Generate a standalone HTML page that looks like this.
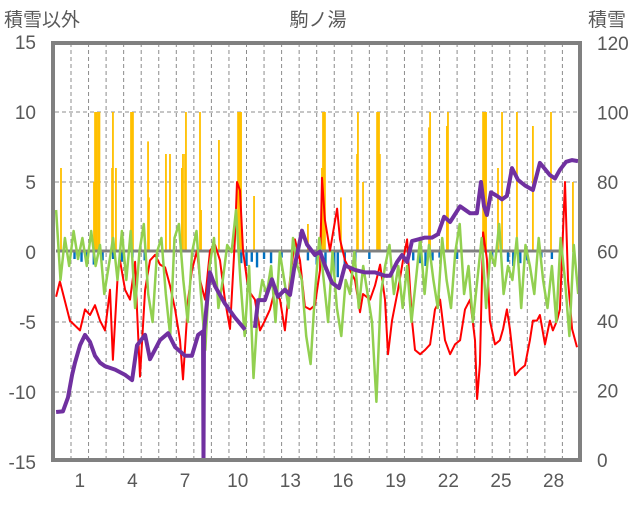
<!DOCTYPE html>
<html><head><meta charset="utf-8"><style>
body{margin:0;background:#fff;}
svg text{font-family:"Liberation Sans","Noto Sans CJK JP",sans-serif;fill:#595959;}
</style></head><body>
<svg id="chart" width="636" height="501" viewBox="0 0 636 501" xmlns="http://www.w3.org/2000/svg">
<text x="318" y="26" font-size="19" text-anchor="middle">駒ノ湯</text>
<text x="4" y="26" font-size="19">積雪以外</text>
<text x="588" y="26" font-size="19">積雪</text>
<g id="grid"></g>
<g id="bars"></g>
<g id="lines"></g>
<g id="axes"></g>
</svg>
<script>
const leftTicks=[15,10,5,0,-5,-10,-15];
const rightTicks=[120,100,80,60,40,20,0];
const dayLabels=[1,4,7,10,13,16,19,22,25,28];
const orangeT=[-0.57,1.31,1.37,1.45,1.54,1.62,2.34,2.39,2.56,3.42,3.48,3.53,4.39,4.44,5.41,5.64,6.32,6.38,6.5,6.55,7.35,7.41,8.43,9.52,9.58,9.63,9.69,10.43,13.5,14.3,14.36,14.42,14.47,15.38,16.3,16.35,16.64,17.44,17.5,17.55,17.6,20.4,20.46,21.42,21.48,23.48,23.53,23.59,23.65,24.33,24.56,25.41,26.32,27.35,28.6];
const orangeV=[6,5,10,10,10,10,6,10,6,10,10,10,7.9,3.9,7,7,6,7,7,10,10,3,8,10,10,10,10,4,2,6,10,10,10,3.9,7,10,5,10,10,10,7,8.9,10,9,10,10,10,10,10,6,10,10,9,10,5];
const blueT=[0.2,0.6,0.9,1.3,1.8,2.4,2.9,3.5,4.2,9.7,10.0,10.3,10.6,11.0,11.4,12.0,12.6,13.5,14.0,14.5,15.0,15.2,15.6,16.2,17.0,19.5,19.9,20.2,20.6,21.0,22.0,24.0,24.9,25.2,25.6,26.0,26.8,27.4];
const blueV=[-0.5,-0.7,-0.4,-0.9,-0.6,-0.5,-0.7,-0.4,-0.6,-0.8,-1.0,-0.7,-1.1,-0.5,-0.8,-0.4,-0.5,-0.6,-0.9,-1.3,-1.6,-1.8,-1.2,-0.8,-0.5,-0.6,-0.8,-1.0,-0.6,-0.4,-0.5,-0.4,-0.7,-1.0,-0.8,-0.6,-0.4,-0.5];
const redT=[-0.85,-0.63,-0.06,0.51,0.8,1.08,1.37,1.65,1.94,2.22,2.39,2.68,2.79,3.08,3.36,3.65,3.76,3.93,4.22,4.5,4.79,5.07,5.36,5.64,5.93,6.21,6.38,6.67,6.89,7.18,7.35,7.64,7.92,8.21,8.49,8.77,9.06,9.34,9.46,9.63,9.8,10.03,10.2,10.48,10.77,11.05,11.34,11.62,11.91,12.19,12.48,12.76,13.05,13.33,13.62,13.9,14.19,14.3,14.47,14.76,15.16,15.33,15.61,15.9,16.18,16.47,16.64,17.04,17.32,17.61,17.89,18.06,18.29,18.63,18.92,19.15,19.32,19.43,19.6,19.89,20.17,20.46,20.74,21.03,21.31,21.6,21.88,22.17,22.45,22.74,23.02,23.14,23.3,23.48,23.7,23.87,24.16,24.44,24.62,24.84,25.01,25.3,25.58,25.87,26.15,26.32,26.55,26.72,27.01,27.29,27.46,27.69,27.86,28.15,28.32,28.55,28.83];
const redV=[-3.2,-2.1,-4.9,-5.6,-4.1,-4.5,-3.8,-4.9,-5.6,-2.7,-7.7,-1.3,-0.6,-2.7,-3.4,-0.7,-4.1,-8.9,-2.7,-0.6,-0.2,-0.9,-1.1,-2.4,-4.1,-6.3,-9.1,-3.4,-1.3,0.1,-2.0,-3.4,0.1,0.5,-0.6,-3.4,-5.5,0.9,5.0,4.4,0.1,-2.0,-2.9,-3.4,-5.6,-4.9,-4.1,-2.7,-3.4,-5.6,-2.0,0.9,-0.6,-3.9,-4.1,-3.8,-1.3,5.3,2.3,0.1,3.1,0.9,-0.6,-1.3,-2.0,-4.3,-3.0,-3.4,-2.4,-0.9,-3.4,-7.3,-4.9,-2.7,-0.6,0.9,-2.7,-4.9,-7.0,-7.3,-7.0,-6.6,-4.1,-3.4,-6.3,-7.3,-6.6,-6.3,-4.1,-3.4,-6.3,-10.5,-8.0,1.4,-0.5,-4.9,-6.6,-6.3,-5.5,-4.1,-5.5,-8.8,-8.4,-8.1,-6.3,-4.9,-4.9,-4.5,-6.6,-4.9,-5.6,-4.9,-4.1,5.0,-2.0,-5.5,-6.8];
const greenV=[3,-2,1,-1,1.5,-0.5,1,-1,
1.5,-1,0.5,-3,-1,1,-2,1.5,
-2,1.5,-4,0,2,-3,-5,0,
1,-3,-6,1,2,-2,-5,0,
1.5,-3,-7,-1,1,-4,-2,0.5,
0,3,-2,-6,-1,-9,-4,-2,
-3,-1,-5,0,-2,-4,1,-1,
-2,-6,-8,-3,1,-2,-5,0,
-4,-6,-2,-3,0,-4,-1,-3,
-5,-10.7,-3,-1,0.5,-3,-1,-4,
-1,-5,-2,1,-3,0.5,-2,-4,
1,-2,-4,0,2,-3,-1,-5,
-2,1,-4,0,-1,2,-3,-1,
-2,1,-4,0.5,-1,-3,1,-2,
-4,-1,-5,1,-2,-6,0.5,-3];
const greenStartT=-0.85, greenStepT=0.25;
const snowT=[-0.85,-0.46,-0.17,0.06,0.23,0.51,0.8,1.08,1.37,1.65,1.94,2.51,3.08,3.48,3.76,4.22,4.5,5.07,5.53,5.93,6.5,6.89,7.24,7.52,7.55,7.58,7.92,8.21,8.77,9.34,9.92,null,10.48,10.66,11.05,11.45,11.79,12.19,12.48,12.71,13.16,13.45,13.9,14.19,14.47,14.87,15.27,15.61,16.18,16.75,17.32,17.89,18.18,18.58,18.86,19.15,19.43,20.17,20.57,20.91,21.26,21.6,22.17,22.74,23.13,23.36,23.53,23.7,23.93,24.27,24.56,24.84,25.13,25.47,25.87,26.32,26.72,27.29,27.58,27.86,28.21,28.55,28.89];
const snowV=[13.8,14,18,24.5,28,33,36,34,30,28,27,26,24.5,23,33,36,29,34.5,36.5,32.5,30,30,36,37,0,37,54,50,45,41,37.5,null,38,46,46,52,47,49,47.5,55,66,62,59,60,56,51,49.5,56,54.7,54,54,53,53,57,59,57,63,64,64,65,70,68.5,73,71,71,80,73,70.5,77,76,75,76,84,80.6,79,77.7,85.5,82,81,83.5,85.8,86.3,86];

const svg=document.getElementById('chart');
const NS='http://www.w3.org/2000/svg';
const L=55,R=579,T=43,B=460;
const x=t=>71+t*17.55;
const yl=v=>252-v*14;
const yr=v=>460-v*(417/120);
function mk(tag,attrs,parent){const e=document.createElementNS(NS,tag);for(const k in attrs)e.setAttribute(k,attrs[k]);parent.appendChild(e);return e;}
const grid=document.getElementById('grid'),bars=document.getElementById('bars'),lines=document.getElementById('lines'),axes=document.getElementById('axes');
leftTicks.forEach(v=>{if(v===15||v===-15||v===0)return;
 const g=mk('line',{x1:L,x2:R,y1:yl(v),y2:yl(v),stroke:'#8c8c8c','stroke-width':1,'stroke-dasharray':'4 3'},grid);
 
 });
for(let d=0;d<=28;d++){const g=mk('line',{x1:x(d),x2:x(d),y1:T,y2:B,stroke:'#8c8c8c','stroke-width':1,'stroke-dasharray':'4 3'},grid);
 
 }
orangeT.forEach((t,i)=>{const v=orangeV[i];const r=mk('rect',{x:x(t)-0.9,y:yl(v),width:1.8,height:yl(0)-yl(v),fill:'#ffc000'},bars);
 
 });
blueT.forEach((t,i)=>{const v=blueV[i];const r=mk('rect',{x:x(t)-1.2,y:yl(0),width:2.4,height:yl(v)-yl(0),fill:'#0070c0'},bars);
 
 });
const z=mk('line',{x1:L+1,x2:560,y1:yl(0)-1,y2:yl(0)-1,stroke:'#808080','stroke-width':3},lines);


function path(ts,vs,yf){let d='',pen=false;for(let i=0;i<ts.length;i++){if(ts[i]===null||vs[i]===null){pen=false;continue;}d+=(pen?'L':'M')+x(ts[i]).toFixed(1)+' '+yf(vs[i]).toFixed(1);pen=true;}return d;}
const rp=mk('path',{d:path(redT,redV,yl),fill:'none',stroke:'#ff0000','stroke-width':2,'stroke-linejoin':'round'},lines);


const greenT=greenV.map((v,i)=>greenStartT+i*greenStepT);
const gp=mk('path',{d:path(greenT,greenV,yl),fill:'none',stroke:'#92d050','stroke-width':2.5,'stroke-linejoin':'round'},lines);


const sp=mk('path',{d:path(snowT,snowV,yr),fill:'none',stroke:'#7030a0','stroke-width':4,'stroke-linejoin':'round'},lines);


const bd=mk('rect',{x:53,y:43,width:527,height:417,fill:'none',stroke:'#808080','stroke-width':4},axes);


leftTicks.forEach(v=>{const t=mk('text',{x:36,y:yl(v)+7,'font-size':19,'text-anchor':'end'},axes);t.textContent=v;
 
 });
rightTicks.forEach(v=>{const t=mk('text',{x:597,y:yr(v)+7,'font-size':19},axes);t.textContent=v;
 
 });
dayLabels.forEach(d=>{const t=mk('text',{x:x(d-0.5),y:487,'font-size':19,'text-anchor':'middle'},axes);t.textContent=d;
 
 });
</script>
</body></html>
